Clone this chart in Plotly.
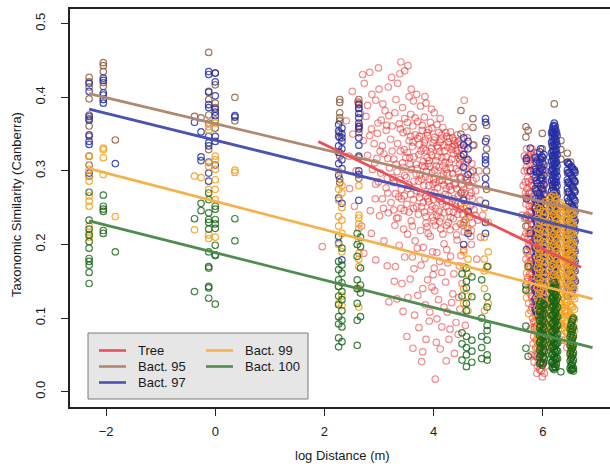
import plotly.graph_objects as go

# ---------------- data ----------------
# Tree (pairwise points)
tree_x = [3.40,3.53,3.38,3.47,2.99,2.70,2.83,2.51,2.73,2.87,3.00,3.17,3.59,3.69,3.86,4.01,4.56,2.94,3.07,3.31,3.43,3.55,3.23,2.61,3.76,3.96,3.11,2.79,3.63,3.34,2.66,3.84,
          2.76,3.04,3.18,3.29,3.47,3.58,3.71,3.83,3.94,4.06,4.17,4.31,4.43,3.62,3.91,4.12,3.37,
          2.64,2.86,2.97,3.13,3.24,3.39,3.51,3.66,3.79,3.89,4.02,4.14,4.27,4.39,4.51,3.99,4.22,4.35,3.55,3.74,4.08,4.46,3.85,4.19,
          2.71,2.91,3.06,3.21,3.34,3.46,3.61,3.73,3.86,3.97,4.11,4.23,4.36,4.48,4.61,2.79,2.96,3.09,3.27,3.43,3.56,3.68,3.81,3.93,4.04,4.17,4.29,4.41,4.54,4.68,4.02,4.25,3.88,4.33,4.44,4.15,
          2.88,3.03,3.19,3.33,3.47,3.59,3.75,3.87,4.00,4.13,4.26,4.37,4.51,4.63,4.77,2.94,3.13,3.27,3.41,3.54,3.69,3.82,3.95,4.07,4.21,4.32,4.45,4.57,4.71,4.40,4.19,3.92,
          3.06,3.22,3.36,3.51,3.63,3.78,3.91,4.03,4.16,4.28,4.41,4.53,4.66,4.81,2.84,3.01,3.17,3.32,3.46,3.59,3.72,3.86,3.98,4.11,4.24,4.36,4.49,4.62,4.34,4.09,
          2.86,2.94,3.15,3.30,3.42,3.52,3.66,3.81,3.94,4.06,4.19,4.31,4.43,4.55,3.61,3.77,4.01,4.26,4.47,3.37,3.09,1.96,2.72,4.13,3.88,
          3.18,3.51,3.62,3.78,4.03,3.80,3.71,3.85,3.97,4.09,4.22,4.35,4.48,3.92,4.15,4.28,4.41,3.65,3.57,4.05,4.38,4.52,3.44,3.99,4.25,
          3.52,3.66,3.79,3.97,4.09,4.24,4.37,4.49,3.44,3.58,3.71,3.83,3.96,4.12,4.26,4.41,4.55,3.39,3.52,3.64,3.77,3.90,4.07,4.21,4.33,4.47,4.59,
          3.31,3.44,3.57,3.70,3.84,3.97,4.10,4.23,4.35,4.49,4.62,3.25,3.38,3.50,3.64,3.78,3.91,4.04,4.16,4.29,4.42,4.55,4.69,
          3.16,3.30,3.46,3.58,3.74,3.86,4.00,4.13,4.24,4.37,4.50,4.61,4.74,3.40,3.55,3.69,3.83,3.95,4.06,4.19,4.31,4.44,4.58,4.71,
          3.29,3.45,3.61,3.76,3.90,4.03,4.17,4.30,4.42,4.56,4.68,2.98,3.14,2.83,3.02,3.16,2.92,3.24,2.99,3.15,3.08,2.93,3.27,
          3.70,3.84,3.98,4.11,4.24,4.37,4.50,3.64,3.89,4.02,4.15,4.33,4.46,3.80,3.93,4.06,4.19,4.30,4.45,3.73,3.86,4.12,4.23,4.58,3.53,3.47,3.28,3.33,2.68,2.55,2.46,2.58,2.45,2.52,2.40,
          3.74,3.88,4.01,4.15,4.29,4.43,4.57,3.81,3.94,4.06,4.20,4.34,4.46,4.60,3.79,3.92,4.05,4.18,4.31,4.45,4.58,4.72,
          3.72,3.85,3.99,4.11,4.23,4.38,4.52,4.66,3.76,3.89,4.02,4.14,4.27,4.40,4.54,4.67,3.81,3.97,4.10,4.23,4.36,4.49,4.63,4.76,
          3.86,4.00,4.13,4.27,4.41,4.54,4.69,3.62,3.49,3.68,3.53,3.41,3.63,3.35,
          4.62,4.70,4.78,4.85,4.74,4.66,4.83,4.90,4.58,4.69,4.79,4.86,
          5.72,5.76,5.80,5.85,5.90,5.95,6.00,6.04,5.68,5.74,5.79,5.83,5.88,5.93,5.98,6.03,6.07,5.71,5.77,5.82,5.86,5.91,5.96,6.01,6.05,5.73,5.78,5.84,5.89,5.94,5.99,6.04,
          5.75,5.81,5.87,5.92,5.97,6.02,6.07,5.76,5.82,5.87,5.93,5.98,6.03,5.79,5.85,5.90,5.95,6.00,6.05,5.81,5.86,5.91,5.96,6.01,5.83,5.88,5.93,5.98,6.03,5.86,5.91,5.96,6.01,5.94,5.99,6.06,5.89,
          5.70,5.74,5.78,5.84,5.89,5.97,6.05,5.69,5.76,5.81,5.87,5.92,5.99,6.06,5.72,5.79,5.85,5.90,5.97,6.02,5.74,5.80,5.86,5.93,6.00,6.06,
          5.77,5.83,5.89,5.96,6.01,5.78,5.84,5.91,5.97,6.04,5.80,5.87,5.92,5.99,6.06,5.84,5.89,5.95,6.00,6.07,5.87,5.92,5.97,6.02,5.90,5.96,6.03,5.66,5.64,5.62,5.66,5.69,5.71,5.74,
          5.73,5.78,5.83,5.88,5.93,5.99,6.04,5.71,5.75,5.80,5.86,5.91,5.96,6.02,5.74,5.79,5.83,5.88,5.92,5.98,6.03,
          5.76,5.81,5.86,5.90,5.95,6.00,6.05,5.78,5.82,5.88,5.93,5.98,6.03,5.80,5.85,5.90,5.95,6.01,6.06,
          5.82,5.87,5.92,5.97,6.03,5.85,5.90,5.95,6.00,6.05,5.88,5.93,5.98,6.02,5.97,
          5.66,5.68,5.70,5.72,5.74,5.76,5.78,5.80,5.82,5.84,5.67,5.69,5.71,5.73,5.75,5.77,5.79,5.81,5.83,5.85,
          5.72,5.75,5.78,5.80,5.83,5.85,5.77,5.82,5.84,5.79,5.70,5.78,5.84,5.74,
          6.15,6.22,6.30,6.38,6.45,6.52,6.60,6.18,6.27,6.35,6.44,6.55,6.25,6.12,6.40]
tree_y = [0.448,0.443,0.432,0.436,0.440,0.431,0.434,0.408,0.419,0.404,0.411,0.414,0.411,0.404,0.392,0.379,0.396,0.396,0.391,0.397,0.386,0.401,0.427,0.394,0.388,0.384,0.382,0.389,0.395,0.419,0.378,0.401,
          0.374,0.369,0.375,0.379,0.371,0.377,0.367,0.373,0.366,0.363,0.359,0.353,0.349,0.361,0.356,0.371,0.364,
          0.362,0.357,0.351,0.355,0.361,0.357,0.354,0.349,0.355,0.348,0.346,0.343,0.339,0.335,0.331,0.338,0.352,0.345,0.341,0.336,0.331,0.340,0.342,0.335,
          0.341,0.337,0.334,0.343,0.337,0.329,0.333,0.322,0.328,0.321,0.326,0.319,0.323,0.315,0.312,0.321,0.317,0.323,0.316,0.311,0.318,0.309,0.313,0.306,0.314,0.307,0.311,0.303,0.306,0.298,0.301,0.297,0.318,0.329,0.324,0.318,
          0.302,0.297,0.304,0.299,0.294,0.302,0.295,0.299,0.288,0.293,0.286,0.290,0.281,0.284,0.273,0.282,0.277,0.284,0.275,0.281,0.273,0.280,0.271,0.277,0.268,0.274,0.266,0.270,0.262,0.283,0.281,0.289,
          0.262,0.257,0.265,0.255,0.261,0.251,0.258,0.249,0.255,0.245,0.251,0.241,0.238,0.233,0.246,0.239,0.243,0.236,0.246,0.232,0.241,0.229,0.237,0.231,0.226,0.235,0.228,0.222,0.259,0.262,
          0.215,0.179,0.171,0.170,0.147,0.214,0.205,0.196,0.211,0.189,0.201,0.184,0.206,0.193,0.183,0.172,0.168,0.175,0.171,0.199,0.205,0.197,0.188,0.221,0.224,
          0.122,0.075,0.059,0.041,0.017,0.054,0.131,0.118,0.142,0.125,0.149,0.133,0.112,0.096,0.088,0.071,0.094,0.104,0.153,0.067,0.052,0.147,0.109,0.159,0.108,
          0.366,0.372,0.362,0.358,0.352,0.347,0.341,0.336,0.352,0.347,0.344,0.338,0.331,0.339,0.332,0.328,0.322,0.327,0.325,0.319,0.327,0.310,0.320,0.312,0.316,0.309,0.303,
          0.309,0.305,0.309,0.303,0.306,0.297,0.305,0.302,0.296,0.292,0.289,0.291,0.288,0.291,0.286,0.289,0.280,0.284,0.287,0.279,0.276,0.275,0.270,
          0.270,0.269,0.266,0.268,0.264,0.266,0.261,0.265,0.259,0.262,0.255,0.251,0.247,0.249,0.244,0.251,0.244,0.247,0.239,0.243,0.237,0.241,0.234,0.229,
          0.226,0.221,0.225,0.219,0.215,0.226,0.214,0.220,0.213,0.217,0.211,0.365,0.362,0.348,0.327,0.317,0.311,0.327,0.285,0.290,0.249,0.262,0.247,
          0.195,0.181,0.190,0.177,0.193,0.160,0.185,0.167,0.152,0.137,0.162,0.121,0.128,0.140,0.108,0.099,0.115,0.085,0.078,0.087,0.071,0.058,0.042,0.090,0.128,0.183,0.150,0.126,0.225,0.252,0.276,0.300,0.320,0.350,0.368,
          0.347,0.352,0.342,0.349,0.344,0.338,0.331,0.331,0.326,0.334,0.327,0.333,0.318,0.317,0.307,0.314,0.307,0.296,0.304,0.299,0.292,0.287,
          0.286,0.292,0.282,0.287,0.276,0.281,0.271,0.266,0.270,0.262,0.271,0.259,0.266,0.257,0.262,0.252,0.257,0.252,0.245,0.252,0.244,0.248,0.243,0.240,
          0.238,0.232,0.236,0.230,0.224,0.226,0.219,0.339,0.318,0.296,0.276,0.262,0.249,0.236,
          0.345,0.310,0.290,0.260,0.335,0.280,0.300,0.240,0.360,0.200,0.180,0.210,
          0.290,0.310,0.330,0.320,0.325,0.318,0.310,0.300,0.270,0.260,0.280,0.295,0.285,0.300,0.280,0.270,0.290,0.240,0.235,0.250,0.260,0.245,0.255,0.240,0.250,0.210,0.220,0.205,0.215,0.225,0.210,0.220,
          0.185,0.190,0.180,0.195,0.185,0.190,0.175,0.160,0.155,0.165,0.150,0.160,0.145,0.130,0.125,0.135,0.120,0.130,0.115,0.100,0.095,0.105,0.090,0.100,0.075,0.070,0.080,0.065,0.075,0.050,0.045,0.055,0.040,0.030,0.020,0.035,0.025,
          0.305,0.285,0.300,0.310,0.300,0.295,0.285,0.255,0.270,0.265,0.275,0.265,0.260,0.265,0.225,0.245,0.235,0.230,0.235,0.225,0.200,0.210,0.195,0.205,0.195,0.205,
          0.170,0.175,0.170,0.175,0.165,0.145,0.140,0.145,0.135,0.140,0.115,0.110,0.120,0.110,0.125,0.085,0.090,0.085,0.080,0.090,0.060,0.065,0.060,0.055,0.035,0.040,0.025,0.320,0.280,0.240,0.210,0.180,0.150,0.120,
          0.318,0.322,0.302,0.313,0.308,0.302,0.313,0.276,0.252,0.288,0.249,0.275,0.268,0.282,0.233,0.228,0.219,0.243,0.218,0.248,0.232,
          0.198,0.203,0.212,0.188,0.198,0.207,0.185,0.178,0.166,0.158,0.182,0.172,0.158,0.152,0.138,0.148,0.128,0.142,0.133,
          0.122,0.104,0.112,0.098,0.108,0.088,0.078,0.068,0.092,0.062,0.048,0.052,0.038,0.046,0.028,
          0.300,0.285,0.265,0.300,0.270,0.245,0.260,0.235,0.280,0.250,0.235,0.215,0.190,0.175,0.215,0.195,0.160,0.180,0.145,0.165,
          0.155,0.135,0.110,0.130,0.095,0.115,0.085,0.065,0.040,0.050,0.330,0.315,0.325,0.320,
          0.300,0.270,0.250,0.220,0.200,0.170,0.150,0.120,0.090,0.070,0.060,0.050,0.040,0.060,0.110]

# Bacteria: stripe positions (log distance) and the similarity values read in each stripe
bact95_sx = [-2.31,-2.05,-1.83,-0.38,-0.26,-0.12,0.00,0.36,2.28,2.63,4.50,4.72,4.97,
             5.69,5.73,5.99,6.18,6.21,6.33,6.45,6.51,6.58]
bact95_sy = [[0.427,0.421,0.414,0.398,0.376,0.371,0.361,0.347,0.320,0.308],
             [0.447,0.443,0.435,0.420,0.415,0.397],
             [0.342],[0.374],[0.372],
             [0.461,0.408,0.397,0.376,0.329,0.365],
             [0.433,0.417,0.386,0.369,0.358,0.392],
             [0.400,0.368],
             [0.397,0.393,0.379,0.372,0.368,0.352,0.345,0.325,0.320,0.289,0.284],
             [0.397,0.392,0.385,0.360,0.352,0.318,0.290],
             [0.382,0.350,0.320,0.290,0.270],
             [0.371,0.359,0.335,0.300],
             [0.362,0.344,0.330,0.300,0.275],
             [0.360,0.346,0.237,0.225],[0.355],
             [0.351,0.330,0.312,0.291,0.276,0.258,0.241,0.222],
             [0.335,0.319,0.302,0.281,0.262,0.243,0.221],
             [0.391,0.352,0.343,0.336,0.327,0.318,0.306,0.293,0.281,0.269,0.256,0.241,0.226,0.211],
             [0.341,0.329,0.316],
             [0.324,0.311,0.297,0.284,0.271,0.251,0.232,0.211,0.189],
             [0.312,0.296,0.282,0.264,0.250,0.236,0.214,0.199,0.181,0.162],
             [0.301,0.286,0.271,0.252,0.231]]

bact97_sx = [-2.31,-2.05,-1.83,-0.38,-0.26,-0.12,0.00,0.36,2.26,2.32,2.63,4.55,4.63,4.95,
             5.70,5.77,5.86,5.88,5.90,5.94,5.96,5.98,6.00,6.02,
             6.16,6.175,6.185,6.20,6.21,6.225,6.235,6.25,6.26,
             6.45,6.47,6.485,6.52,6.54,6.555,6.575,6.59]
bact97_sy = [[0.419,0.408,0.374,0.369,0.349,0.340,0.336,0.297,0.293],
             [0.426,0.423,0.406,0.403,0.397,0.392],
             [0.310],[0.366],[0.353,0.319,0.314],
             [0.435,0.431,0.407,0.390,0.386,0.347,0.338,0.334,0.312,0.297,0.286],
             [0.433,0.421,0.402,0.384,0.380,0.375,0.347,0.340,0.308],
             [0.375,0.373],
             [0.363,0.354,0.347,0.334,0.325,0.310,0.294,0.263,0.202],
             [0.358,0.350,0.345,0.340,0.330,0.315,0.303,0.256,0.179],
             [0.390,0.385,0.378,0.372,0.365,0.360,0.357,0.345,0.335,0.320,0.300,0.295,0.260],
             [0.345,0.335,0.322,0.305,0.260,0.230,0.200],
             [0.340,0.330,0.315,0.295,0.245,0.215],
             [0.371,0.366,0.340,0.320,0.315,0.310,0.290,0.280,0.256,0.230,0.215],
             [0.317,0.314,0.262,0.193],
             [0.331,0.300,0.215],
             [0.318,0.302,0.291,0.276,0.262,0.249,0.236,0.221,0.207,0.196,0.183,0.168,0.152,0.141,0.127,0.112],
             [0.312,0.299,0.287,0.273,0.258,0.245,0.231,0.218,0.204,0.190,0.177,0.163,0.149,0.136,0.122,0.109],
             [0.315,0.297,0.283,0.270,0.255,0.242,0.228,0.214,0.200,0.188,0.174,0.160,0.146,0.133,0.118,0.105],
             [0.326,0.311,0.299,0.287,0.270,0.258,0.244,0.232,0.219,0.204,0.192,0.177,0.163,0.149,0.136,0.121,0.104],
             [0.330,0.316,0.303,0.290,0.279,0.264,0.251,0.238,0.225,0.212,0.198,0.185,0.171,0.158,0.145,0.130,0.117,0.108],
             [0.320,0.305,0.290,0.276,0.262,0.247,0.235,0.222,0.209,0.195,0.181,0.167,0.154,0.140,0.126,0.112],
             [0.318,0.301,0.287,0.274,0.260,0.246,0.233,0.219,0.206,0.193,0.179,0.165,0.152,0.138,0.124,0.113],
             [0.322,0.308,0.294,0.281,0.268,0.253,0.241,0.227,0.213,0.199,0.186,0.172,0.159,0.144,0.130,0.117],
             [0.352,0.339,0.325,0.313,0.300,0.287,0.273,0.261,0.248,0.234,0.221,0.208,0.194,0.180,0.166,0.153,0.139,0.125],
             [0.355,0.347,0.334,0.321,0.308,0.294,0.281,0.268,0.255,0.242,0.229,0.216,0.202,0.189,0.176,0.162,0.149,0.135],
             [0.360,0.351,0.341,0.328,0.316,0.303,0.290,0.277,0.265,0.252,0.239,0.226,0.212,0.199,0.186,0.172,0.158,0.145,0.131],
             [0.362,0.352,0.339,0.326,0.313,0.299,0.287,0.274,0.261,0.249,0.236,0.223,0.210,0.196,0.183,0.170,0.156,0.142,0.128],
             [0.365,0.357,0.346,0.333,0.321,0.309,0.296,0.284,0.271,0.259,0.246,0.232,0.219,0.206,0.193,0.178,0.164,0.151,0.137,0.124],
             [0.361,0.349,0.336,0.323,0.310,0.297,0.284,0.270,0.256,0.243,0.230,0.216,0.203,0.190,0.176,0.163,0.149,0.136],
             [0.356,0.343,0.329,0.317,0.304,0.290,0.277,0.263,0.250,0.236,0.222,0.209,0.195,0.181,0.168,0.154,0.140],
             [0.352,0.339,0.326,0.312,0.299,0.285,0.271,0.258,0.244,0.230,0.217,0.203,0.189,0.175,0.161,0.147],
             [0.348,0.335,0.322,0.307,0.293,0.280,0.266,0.252,0.239,0.225,0.211,0.198,0.184,0.170,0.156,0.142],
             [0.312,0.301,0.288,0.276,0.263,0.249,0.236,0.223,0.210,0.197,0.183,0.170,0.156,0.143,0.130],
             [0.310,0.298,0.285,0.272,0.259,0.246,0.232,0.219,0.206,0.193,0.180,0.166,0.153,0.140],
             [0.309,0.297,0.283,0.270,0.257,0.243,0.229,0.216,0.203,0.190,0.176,0.163,0.150,0.137],
             [0.306,0.294,0.281,0.268,0.254,0.241,0.228,0.214,0.201,0.188,0.174,0.161,0.147,0.134],
             [0.304,0.291,0.279,0.266,0.252,0.239,0.226,0.212,0.199,0.185,0.172,0.158,0.145,0.138],
             [0.302,0.289,0.277,0.263,0.250,0.237,0.223,0.209,0.196,0.182,0.169,0.155,0.142],
             [0.300,0.287,0.274,0.261,0.248,0.235,0.221,0.207,0.194,0.180,0.167,0.153],
             [0.298,0.285,0.272,0.259,0.245,0.232,0.218,0.204,0.191,0.177,0.164,0.150]]

bact99_sx = [-2.31,-2.05,-1.83,-0.38,-0.26,-0.12,0.00,0.36,2.26,2.32,2.63,4.55,4.63,4.93,5.00,
             5.70,5.74,5.90,5.925,5.95,6.00,6.05,6.12,6.16,6.20,6.225,6.25,6.30,6.325,6.35,
             6.40,6.425,6.45,6.50,6.525,6.55,6.58]
bact99_sy = [[0.320,0.302,0.293,0.286,0.266,0.259,0.252,0.225,0.216,0.210],
             [0.331,0.329,0.318,0.295],
             [0.238],[0.293,0.220],[0.291],
             [0.360,0.355,0.311,0.306,0.275,0.213,0.208],
             [0.365,0.320,0.315,0.302,0.288,0.275,0.261,0.210],
             [0.301,0.298],
             [0.300,0.275,0.260,0.238,0.225,0.200,0.143,0.120],
             [0.280,0.270,0.250,0.233,0.215,0.190,0.130,0.117],
             [0.280,0.240,0.236,0.228,0.222,0.205,0.188,0.180,0.170,0.140,0.115],
             [0.250,0.230,0.190,0.170,0.140,0.120],
             [0.240,0.220,0.180,0.160,0.130,0.110],
             [0.250,0.210,0.180,0.164,0.140,0.110],
             [0.230,0.190,0.170,0.120],
             [0.190,0.161,0.140,0.128],
             [0.217,0.172,0.106],
             [0.250,0.236,0.222,0.209,0.196,0.182,0.169,0.155,0.141,0.128,0.114,0.100,0.087,0.073,0.060],
             [0.243,0.229,0.215,0.202,0.188,0.175,0.161,0.147,0.134,0.120,0.106,0.093,0.079,0.066],
             [0.248,0.233,0.220,0.206,0.193,0.179,0.166,0.152,0.138,0.125,0.111,0.098,0.084,0.071,0.058],
             [0.245,0.231,0.218,0.204,0.190,0.177,0.163,0.150,0.136,0.122,0.109,0.095,0.082,0.068,0.055],
             [0.258,0.244,0.230,0.217,0.203,0.190,0.176,0.162,0.149,0.135,0.121,0.108,0.094,0.081,0.067],
             [0.262,0.248,0.234,0.221,0.207,0.193,0.180,0.166,0.152,0.139,0.125,0.111,0.098,0.084,0.070],
             [0.265,0.251,0.238,0.224,0.210,0.197,0.183,0.170,0.156,0.142,0.129,0.115,0.101,0.087,0.074],
             [0.268,0.255,0.241,0.228,0.214,0.200,0.186,0.173,0.159,0.145,0.132,0.118,0.104,0.090,0.077,0.063],
             [0.264,0.250,0.237,0.223,0.210,0.196,0.182,0.168,0.155,0.141,0.127,0.114,0.100,0.086,0.072],
             [0.260,0.247,0.233,0.220,0.206,0.192,0.179,0.165,0.151,0.138,0.124,0.110,0.096],
             [0.255,0.241,0.227,0.213,0.200,0.186,0.172,0.158,0.145,0.131,0.117,0.103,0.090],
             [0.257,0.243,0.229,0.216,0.202,0.188,0.175,0.161,0.147,0.133,0.120,0.106,0.092],
             [0.252,0.239,0.225,0.211,0.197,0.183,0.169,0.156,0.142,0.128,0.114,0.100,0.086],
             [0.250,0.236,0.222,0.208,0.194,0.180,0.167,0.153,0.139,0.125,0.111,0.097,0.083,0.070],
             [0.249,0.235,0.221,0.207,0.193,0.179,0.165,0.151,0.137,0.123,0.109,0.095,0.081],
             [0.247,0.233,0.219,0.205,0.191,0.177,0.163,0.149,0.135,0.121,0.107,0.093,0.079],
             [0.244,0.230,0.216,0.202,0.188,0.174,0.160,0.146,0.132,0.118,0.104,0.090,0.076,0.062,0.050],
             [0.242,0.228,0.214,0.200,0.186,0.172,0.158,0.144,0.130,0.116,0.102,0.088,0.074,0.061],
             [0.241,0.227,0.213,0.199,0.185,0.171,0.157,0.143,0.129,0.115,0.101,0.087,0.073,0.060],
             [0.238,0.224,0.210,0.196,0.182,0.168,0.154,0.140,0.126,0.112,0.098,0.084]]

bact100_sx = [-2.31,-2.05,-1.83,-0.38,-0.26,-0.12,0.00,0.36,2.26,2.32,2.60,2.66,4.52,4.60,4.70,4.88,4.98,
              5.69,5.73,5.94,5.96,5.99,6.01,6.03,6.16,6.175,6.19,6.205,6.22,6.235,6.245,6.27,6.33,
              6.50,6.515,6.53,6.545,6.56]
bact100_sy = [[0.271,0.233,0.221,0.213,0.204,0.195,0.181,0.177,0.172,0.162,0.147],
              [0.267,0.252,0.248,0.245,0.219,0.215],
              [0.190],[0.235,0.136],[0.256,0.246],
              [0.270,0.261,0.243,0.234,0.230,0.221,0.190,0.170,0.168,0.143,0.141,0.127],
              [0.252,0.248,0.234,0.228,0.222,0.199,0.186,0.185,0.119],
              [0.235,0.205],
              [0.211,0.177,0.166,0.152,0.143,0.130,0.118,0.102,0.092,0.073,0.061],
              [0.195,0.172,0.161,0.148,0.136,0.125,0.110,0.097,0.088,0.068],
              [0.215,0.200,0.184,0.152,0.140,0.120,0.097,0.063],
              [0.210,0.197,0.168,0.145,0.134,0.102],
              [0.160,0.130,0.080,0.065,0.043],
              [0.168,0.150,0.141,0.120,0.110,0.075,0.060,0.050,0.034],
              [0.156,0.129,0.070,0.055,0.040],
              [0.152,0.100,0.075,0.060,0.045],
              [0.170,0.129,0.115,0.090,0.083,0.070,0.050,0.043],
              [0.145,0.138,0.089,0.059],
              [0.048,0.170],
              [0.119,0.108,0.097,0.087,0.077,0.067,0.057,0.047,0.038],
              [0.122,0.110,0.100,0.090,0.080,0.070,0.060,0.050,0.040],
              [0.116,0.105,0.095,0.084,0.074,0.064,0.054,0.045,0.036],
              [0.120,0.109,0.098,0.088,0.078,0.068,0.058,0.048,0.039],
              [0.118,0.106,0.095,0.085,0.075,0.065,0.055,0.045],
              [0.138,0.126,0.114,0.103,0.092,0.081,0.070,0.060,0.050,0.040],
              [0.140,0.128,0.116,0.104,0.093,0.082,0.071,0.061,0.051,0.041,0.033],
              [0.141,0.129,0.117,0.105,0.094,0.083,0.072,0.062,0.052,0.042,0.032],
              [0.148,0.135,0.123,0.111,0.100,0.089,0.078,0.067,0.057,0.047,0.037,0.030],
              [0.145,0.132,0.120,0.108,0.097,0.086,0.075,0.064,0.054,0.044,0.034],
              [0.142,0.130,0.118,0.106,0.095,0.084,0.073,0.063,0.053,0.043,0.033],
              [0.136,0.124,0.112,0.100,0.088,0.077,0.066,0.056,0.046,0.037],
              [0.128,0.115,0.102,0.090,0.078,0.066,0.055,0.045],
              [0.027],
              [0.085,0.074,0.063,0.052,0.042,0.032],
              [0.090,0.078,0.066,0.055,0.045,0.035,0.029],
              [0.095,0.082,0.070,0.058,0.047,0.037,0.030],
              [0.098,0.085,0.073,0.061,0.050,0.040,0.031],
              [0.100,0.088,0.076,0.064,0.053,0.043,0.032,0.028]]

# fitted regression lines (start / end of each fit)
series_names = ["Tree", "Bact. 95", "Bact. 97", "Bact. 99", "Bact. 100"]
fit_x0 = [1.886, -2.31, -2.31, -2.31, -2.31]
fit_x1 = [6.70, 6.91, 6.91, 6.91, 6.91]
fit_y0 = [0.340, 0.405, 0.384, 0.303, 0.232]
fit_y1 = [0.169, 0.242, 0.2155, 0.126, 0.060]

x_ticks = [-2, 0, 2, 4, 6]
y_ticks = [0.0, 0.1, 0.2, 0.3, 0.4, 0.5]
y_ticklabels = ["0.0", "0.1", "0.2", "0.3", "0.4", "0.5"]

# ---------------- styles ----------------
point_colors = ["rgba(230,40,40,0.52)", "rgba(145,95,65,0.85)", "rgba(35,45,165,0.82)",
                "rgba(245,160,25,0.85)", "rgba(20,100,20,0.8)"]
line_colors = ["#e8505a", "#b08870", "#4a52b4", "#f5b24a", "#4f8c4f"]
FONT = "Liberation Sans, Arial, Helvetica, sans-serif"


def expand(sx, sy):
    xs, ys = [], []
    for x, yl in zip(sx, sy):
        xs.extend([x] * len(yl))
        ys.extend(yl)
    return xs, ys


point_sets = [(tree_x, tree_y),
              expand(bact95_sx, bact95_sy),
              expand(bact97_sx, bact97_sy),
              expand(bact99_sx, bact99_sy),
              expand(bact100_sx, bact100_sy)]

fig = go.Figure()
for name, (xs, ys), col in zip(series_names, point_sets, point_colors):
    fig.add_trace(go.Scatter(x=xs, y=ys, mode="markers", name=name, showlegend=False,
                             marker=dict(symbol="circle-open", size=6.5, color=col,
                                         line=dict(width=1.2, color=col))))

for i in [1, 2, 3, 4, 0]:
    fig.add_trace(go.Scatter(x=[fit_x0[i], fit_x1[i]], y=[fit_y0[i], fit_y1[i]], mode="lines",
                             name=series_names[i], showlegend=False,
                             line=dict(color=line_colors[i], width=2.8)))

# ---------------- legend (R style, two columns) ----------------
PL, PR, PT, PB = 70, 610, 9, 407
W, H = PR - PL, PB - PT
px = lambda v: (v - PL) / W
py = lambda v: (PB - v) / H

shapes = [dict(type="rect", xref="paper", yref="paper", x0=px(88), x1=px(308), y0=py(399), y1=py(333),
               fillcolor="#e6e6e6", line=dict(color="#7a7a7a", width=1), layer="above")]
annotations = []
legend_pos = [(99, 350.5), (99, 366.5), (99, 382.5), (206, 350.5), (206, 366.5)]
for i, (lx, ly) in enumerate(legend_pos):
    shapes.append(dict(type="line", xref="paper", yref="paper", x0=px(lx), x1=px(lx + 27),
                       y0=py(ly), y1=py(ly), line=dict(color=line_colors[i], width=2.6), layer="above"))
    annotations.append(dict(xref="paper", yref="paper", x=px(lx + 37), y=py(ly), text=series_names[i],
                            showarrow=False, xanchor="left", yanchor="middle",
                            font=dict(family=FONT, size=13, color="#1a1a1a")))

annotations.append(dict(xref="paper", yref="paper", x=px(342), y=py(455), text="log Distance (m)",
                        showarrow=False, xanchor="center", yanchor="middle",
                        font=dict(family=FONT, size=13, color="#1a1a1a")))
annotations.append(dict(xref="paper", yref="paper", x=px(16), y=py(205), text="Taxonomic Similarity (Canberra)",
                        showarrow=False, xanchor="center", yanchor="middle", textangle=-90,
                        font=dict(family=FONT, size=13, color="#1a1a1a")))

fig.update_layout(
    width=610, height=467,
    margin=dict(l=PL, r=0, t=PT, b=467 - PB, pad=0),
    paper_bgcolor="white", plot_bgcolor="white",
    showlegend=False,
    shapes=shapes, annotations=annotations,
    xaxis=dict(range=[-2.66, 7.23], tickvals=x_ticks, ticks="outside", ticklen=7, tickwidth=1,
               tickcolor="#222", showline=True, mirror=True, linecolor="#222", linewidth=1.6,
               showgrid=False, zeroline=False, ticklabelstandoff=5,
               tickfont=dict(family=FONT, size=13, color="#1a1a1a")),
    yaxis=dict(range=[-0.0208, 0.52], tickvals=y_ticks, ticktext=y_ticklabels, ticks="outside",
               ticklen=7, tickwidth=1, tickcolor="#222", showline=True, linecolor="#222", linewidth=1.6,
               showgrid=False, zeroline=False, tickangle=-90, ticklabelstandoff=11,
               tickfont=dict(family=FONT, size=13, color="#1a1a1a")),
)

fig.write_html("out.html", config={"displayModeBar": False},
               post_script="document.body.style.margin='0px';document.body.style.overflow='hidden';")
